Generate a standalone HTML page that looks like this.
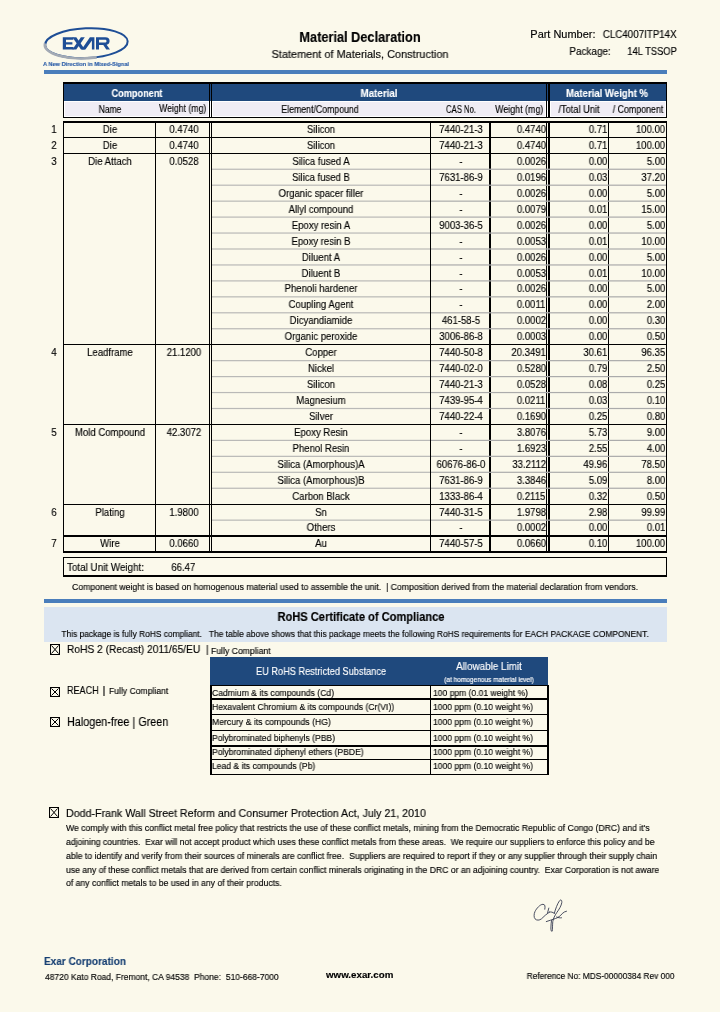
<!DOCTYPE html>
<html><head><meta charset="utf-8"><title>Material Declaration</title>
<style>
html,body{margin:0;padding:0;}
body{width:720px;height:1012px;position:relative;overflow:hidden;background:#FBF9EB;font-family:"Liberation Sans",sans-serif;color:#000;}
.t{position:absolute;white-space:nowrap;line-height:1;will-change:transform;-webkit-text-stroke:0.15px currentColor;}
.r{position:absolute;}
</style></head><body>
<div class="r" style="left:44px;top:70px;width:623px;height:4px;background:#4A7EBB"></div>
<div class="t" id="t0" style="top:29px;font-size:14.5px;line-height:16px;font-weight:bold;left:360.00px;transform:translateX(-50%) scaleX(0.8794557823129251);">Material Declaration</div>
<div class="t" id="t1" style="top:48px;font-size:11px;line-height:12px;left:359.85px;transform:translateX(-50%) scaleX(0.9942566084131027);">Statement of Materials, Construction</div>
<div class="t" id="t2" style="top:28px;font-size:10.5px;line-height:12px;right:124.90px;transform-origin:100% 50%;transform:scaleX(1.0426426426426425);">Part Number:</div>
<div class="t" id="t3" style="top:29px;font-size:10px;line-height:11px;right:43.70px;transform-origin:100% 50%;transform:scaleX(0.97606943583385);">CLC4007ITP14X</div>
<div class="t" id="t4" style="top:45px;font-size:10.5px;line-height:12px;right:109.60px;transform-origin:100% 50%;transform:scaleX(0.9456102783725909);">Package:</div>
<div class="t" id="t5" style="top:46px;font-size:10px;line-height:11px;right:43.70px;transform-origin:100% 50%;transform:scaleX(0.9372781065088758);">14L TSSOP</div>
<div class="r" style="left:63px;top:82px;width:604px;height:2px;background:#000"></div>
<div class="r" style="left:63px;top:84px;width:604px;height:17px;background:#1F497D"></div>
<div class="r" style="left:63px;top:101px;width:604px;height:16px;background:#F0EDF5"></div>
<div class="r" style="left:63px;top:117px;width:604px;height:1px;background:#000"></div>
<div class="r" style="left:64px;top:101px;width:602px;height:1px;background:#FFFFFF"></div>
<div class="r" style="left:64px;top:116px;width:602px;height:1px;background:#FFFFFF"></div>
<div class="r" style="left:64px;top:101px;width:1px;height:16px;background:#FFFFFF"></div>
<div class="r" style="left:208px;top:101px;width:1px;height:16px;background:#FFFFFF"></div>
<div class="r" style="left:210px;top:101px;width:1px;height:16px;background:#FFFFFF"></div>
<div class="r" style="left:212px;top:101px;width:1px;height:16px;background:#FFFFFF"></div>
<div class="r" style="left:545px;top:101px;width:1px;height:16px;background:#FFFFFF"></div>
<div class="r" style="left:547px;top:101px;width:1px;height:16px;background:#FFFFFF"></div>
<div class="r" style="left:550px;top:101px;width:1px;height:16px;background:#FFFFFF"></div>
<div class="r" style="left:665px;top:101px;width:1px;height:16px;background:#FFFFFF"></div>
<div class="r" style="left:63px;top:82px;width:1px;height:36px;background:#000"></div>
<div class="r" style="left:209px;top:82px;width:1px;height:36px;background:#000"></div>
<div class="r" style="left:211px;top:82px;width:1px;height:36px;background:#000"></div>
<div class="r" style="left:546px;top:82px;width:1px;height:36px;background:#000"></div>
<div class="r" style="left:548px;top:82px;width:2px;height:36px;background:#000"></div>
<div class="r" style="left:666px;top:82px;width:1px;height:36px;background:#000"></div>
<div class="t" id="t6" style="top:87px;font-size:10.5px;line-height:12px;font-weight:bold;color:#fff;left:136.90px;transform:translateX(-50%) scaleX(0.872649343691401);">Component</div>
<div class="t" id="t7" style="top:87px;font-size:10.5px;line-height:12px;font-weight:bold;color:#fff;left:379.30px;transform:translateX(-50%) scaleX(0.9297637795275591);">Material</div>
<div class="t" id="t8" style="top:87px;font-size:10.5px;line-height:12px;font-weight:bold;color:#fff;left:607.30px;transform:translateX(-50%) scaleX(0.9134890205646565);">Material Weight %</div>
<div class="t" id="t9" style="top:104px;font-size:10px;line-height:11px;left:109.70px;transform:translateX(-50%) scaleX(0.850585480093677);">Name</div>
<div class="t" id="t10" style="top:103px;font-size:10px;line-height:11px;right:514.20px;transform-origin:100% 50%;transform:scaleX(0.8695451928612551);">Weight (mg)</div>
<div class="t" id="t11" style="top:104px;font-size:10px;line-height:11px;left:320.30px;transform:translateX(-50%) scaleX(0.8745271345235991);">Element/Compound</div>
<div class="t" id="t12" style="top:104px;font-size:10px;line-height:11px;left:460.60px;transform:translateX(-50%) scaleX(0.7736546184738956);">CAS No.</div>
<div class="t" id="t13" style="top:104px;font-size:10px;line-height:11px;right:176.70px;transform-origin:100% 50%;transform:scaleX(0.8861255037420841);">Weight (mg)</div>
<div class="t" id="t14" style="top:104px;font-size:10px;line-height:11px;left:578.60px;transform:translateX(-50%) scaleX(0.9242445537596627);">/Total Unit</div>
<div class="t" id="t15" style="top:104px;font-size:10px;line-height:11px;left:638.00px;transform:translateX(-50%) scaleX(0.8836016371077763);">/ Component</div>
<div class="r" style="left:63px;top:121px;width:1px;height:432px;background:#000"></div>
<div class="r" style="left:155px;top:121px;width:1px;height:432px;background:#000"></div>
<div class="r" style="left:209px;top:121px;width:1px;height:432px;background:#000"></div>
<div class="r" style="left:211px;top:121px;width:1px;height:432px;background:#000"></div>
<div class="r" style="left:430px;top:121px;width:1px;height:432px;background:#000"></div>
<div class="r" style="left:489px;top:121px;width:2px;height:432px;background:#000"></div>
<div class="r" style="left:546px;top:121px;width:1px;height:432px;background:#000"></div>
<div class="r" style="left:548px;top:121px;width:2px;height:432px;background:#000"></div>
<div class="r" style="left:608px;top:121px;width:1px;height:432px;background:#000"></div>
<div class="r" style="left:666px;top:121px;width:1px;height:432px;background:#000"></div>
<div class="r" style="left:63px;top:137px;width:604px;height:1px;background:#000"></div>
<div class="r" style="left:63px;top:153px;width:604px;height:1px;background:#000"></div>
<div class="r" style="left:63px;top:344px;width:604px;height:1px;background:#000"></div>
<div class="r" style="left:63px;top:424px;width:604px;height:1px;background:#000"></div>
<div class="r" style="left:63px;top:504px;width:604px;height:1px;background:#000"></div>
<div class="r" style="left:63px;top:535px;width:604px;height:2px;background:#000"></div>
<div class="r" style="left:63px;top:121px;width:604px;height:2px;background:#000"></div>
<div class="r" style="left:63px;top:551px;width:604px;height:2px;background:#000"></div>
<svg class="r" style="left:0;top:0" width="720" height="1012" viewBox="0 0 720 1012"><rect x="212" y="168.65" width="218" height="1.2" fill="#B9B9B7"/><rect x="431" y="168.65" width="235" height="1.2" fill="#ABABAB"/><rect x="212" y="184.60" width="218" height="1.2" fill="#B9B9B7"/><rect x="431" y="184.60" width="235" height="1.2" fill="#ABABAB"/><rect x="212" y="200.55" width="218" height="1.2" fill="#B9B9B7"/><rect x="431" y="200.55" width="235" height="1.2" fill="#ABABAB"/><rect x="212" y="216.50" width="218" height="1.2" fill="#B9B9B7"/><rect x="431" y="216.50" width="235" height="1.2" fill="#ABABAB"/><rect x="212" y="232.45" width="218" height="1.2" fill="#B9B9B7"/><rect x="431" y="232.45" width="235" height="1.2" fill="#ABABAB"/><rect x="212" y="248.40" width="218" height="1.2" fill="#B9B9B7"/><rect x="431" y="248.40" width="235" height="1.2" fill="#ABABAB"/><rect x="212" y="264.35" width="218" height="1.2" fill="#B9B9B7"/><rect x="431" y="264.35" width="235" height="1.2" fill="#ABABAB"/><rect x="212" y="280.30" width="218" height="1.2" fill="#B9B9B7"/><rect x="431" y="280.30" width="235" height="1.2" fill="#ABABAB"/><rect x="212" y="296.25" width="218" height="1.2" fill="#B9B9B7"/><rect x="431" y="296.25" width="235" height="1.2" fill="#ABABAB"/><rect x="212" y="312.20" width="218" height="1.2" fill="#B9B9B7"/><rect x="431" y="312.20" width="235" height="1.2" fill="#ABABAB"/><rect x="212" y="328.15" width="218" height="1.2" fill="#B9B9B7"/><rect x="431" y="328.15" width="235" height="1.2" fill="#ABABAB"/><rect x="212" y="360.05" width="218" height="1.2" fill="#B9B9B7"/><rect x="431" y="360.05" width="235" height="1.2" fill="#ABABAB"/><rect x="212" y="376.00" width="218" height="1.2" fill="#B9B9B7"/><rect x="431" y="376.00" width="235" height="1.2" fill="#ABABAB"/><rect x="212" y="391.95" width="218" height="1.2" fill="#B9B9B7"/><rect x="431" y="391.95" width="235" height="1.2" fill="#ABABAB"/><rect x="212" y="407.90" width="218" height="1.2" fill="#B9B9B7"/><rect x="431" y="407.90" width="235" height="1.2" fill="#ABABAB"/><rect x="212" y="439.80" width="218" height="1.2" fill="#B9B9B7"/><rect x="431" y="439.80" width="235" height="1.2" fill="#ABABAB"/><rect x="212" y="455.75" width="218" height="1.2" fill="#B9B9B7"/><rect x="431" y="455.75" width="235" height="1.2" fill="#ABABAB"/><rect x="212" y="471.70" width="218" height="1.2" fill="#B9B9B7"/><rect x="431" y="471.70" width="235" height="1.2" fill="#ABABAB"/><rect x="212" y="487.65" width="218" height="1.2" fill="#B9B9B7"/><rect x="431" y="487.65" width="235" height="1.2" fill="#ABABAB"/><rect x="212" y="519.55" width="218" height="1.2" fill="#B9B9B7"/><rect x="431" y="519.55" width="235" height="1.2" fill="#ABABAB"/></svg>
<div class="t" id="t16" style="top:123px;font-size:10.5px;line-height:12px;left:54.00px;transform:translateX(-50%) scaleX(0.91);">1</div>
<div class="t" id="t17" style="top:123px;font-size:10.5px;line-height:12px;left:109.50px;transform:translateX(-50%) scaleX(0.91);">Die</div>
<div class="t" id="t18" style="top:123px;font-size:10.5px;line-height:12px;left:183.50px;transform:translateX(-50%) scaleX(0.91);">0.4740</div>
<div class="t" id="t19" style="top:123px;font-size:10.5px;line-height:12px;left:320.50px;transform:translateX(-50%) scaleX(0.91);">Silicon</div>
<div class="t" id="t20" style="top:123px;font-size:10.5px;line-height:12px;left:460.60px;transform:translateX(-50%) scaleX(0.91);">7440-21-3</div>
<div class="t" id="t21" style="top:123px;font-size:10.5px;line-height:12px;right:174.30px;transform-origin:100% 50%;transform:scaleX(0.91);">0.4740</div>
<div class="t" id="t22" style="top:123px;font-size:10.5px;line-height:12px;right:113.00px;transform-origin:100% 50%;transform:scaleX(0.91);">0.71</div>
<div class="t" id="t23" style="top:123px;font-size:10.5px;line-height:12px;right:54.50px;transform-origin:100% 50%;transform:scaleX(0.91);">100.00</div>
<div class="t" id="t24" style="top:139px;font-size:10.5px;line-height:12px;left:54.00px;transform:translateX(-50%) scaleX(0.91);">2</div>
<div class="t" id="t25" style="top:139px;font-size:10.5px;line-height:12px;left:109.50px;transform:translateX(-50%) scaleX(0.91);">Die</div>
<div class="t" id="t26" style="top:139px;font-size:10.5px;line-height:12px;left:183.50px;transform:translateX(-50%) scaleX(0.91);">0.4740</div>
<div class="t" id="t27" style="top:139px;font-size:10.5px;line-height:12px;left:320.50px;transform:translateX(-50%) scaleX(0.91);">Silicon</div>
<div class="t" id="t28" style="top:139px;font-size:10.5px;line-height:12px;left:460.60px;transform:translateX(-50%) scaleX(0.91);">7440-21-3</div>
<div class="t" id="t29" style="top:139px;font-size:10.5px;line-height:12px;right:174.30px;transform-origin:100% 50%;transform:scaleX(0.91);">0.4740</div>
<div class="t" id="t30" style="top:139px;font-size:10.5px;line-height:12px;right:113.00px;transform-origin:100% 50%;transform:scaleX(0.91);">0.71</div>
<div class="t" id="t31" style="top:139px;font-size:10.5px;line-height:12px;right:54.50px;transform-origin:100% 50%;transform:scaleX(0.91);">100.00</div>
<div class="t" id="t32" style="top:155px;font-size:10.5px;line-height:12px;left:54.00px;transform:translateX(-50%) scaleX(0.91);">3</div>
<div class="t" id="t33" style="top:155px;font-size:10.5px;line-height:12px;left:109.50px;transform:translateX(-50%) scaleX(0.91);">Die Attach</div>
<div class="t" id="t34" style="top:155px;font-size:10.5px;line-height:12px;left:183.50px;transform:translateX(-50%) scaleX(0.91);">0.0528</div>
<div class="t" id="t35" style="top:155px;font-size:10.5px;line-height:12px;left:320.50px;transform:translateX(-50%) scaleX(0.91);">Silica fused A</div>
<div class="t" id="t36" style="top:155px;font-size:10.5px;line-height:12px;left:460.60px;transform:translateX(-50%) scaleX(0.91);">-</div>
<div class="t" id="t37" style="top:155px;font-size:10.5px;line-height:12px;right:174.30px;transform-origin:100% 50%;transform:scaleX(0.91);">0.0026</div>
<div class="t" id="t38" style="top:155px;font-size:10.5px;line-height:12px;right:113.00px;transform-origin:100% 50%;transform:scaleX(0.91);">0.00</div>
<div class="t" id="t39" style="top:155px;font-size:10.5px;line-height:12px;right:54.50px;transform-origin:100% 50%;transform:scaleX(0.91);">5.00</div>
<div class="t" id="t40" style="top:171px;font-size:10.5px;line-height:12px;left:320.50px;transform:translateX(-50%) scaleX(0.91);">Silica fused B</div>
<div class="t" id="t41" style="top:171px;font-size:10.5px;line-height:12px;left:460.60px;transform:translateX(-50%) scaleX(0.91);">7631-86-9</div>
<div class="t" id="t42" style="top:171px;font-size:10.5px;line-height:12px;right:174.30px;transform-origin:100% 50%;transform:scaleX(0.91);">0.0196</div>
<div class="t" id="t43" style="top:171px;font-size:10.5px;line-height:12px;right:113.00px;transform-origin:100% 50%;transform:scaleX(0.91);">0.03</div>
<div class="t" id="t44" style="top:171px;font-size:10.5px;line-height:12px;right:54.50px;transform-origin:100% 50%;transform:scaleX(0.91);">37.20</div>
<div class="t" id="t45" style="top:187px;font-size:10.5px;line-height:12px;left:320.50px;transform:translateX(-50%) scaleX(0.91);">Organic spacer filler</div>
<div class="t" id="t46" style="top:187px;font-size:10.5px;line-height:12px;left:460.60px;transform:translateX(-50%) scaleX(0.91);">-</div>
<div class="t" id="t47" style="top:187px;font-size:10.5px;line-height:12px;right:174.30px;transform-origin:100% 50%;transform:scaleX(0.91);">0.0026</div>
<div class="t" id="t48" style="top:187px;font-size:10.5px;line-height:12px;right:113.00px;transform-origin:100% 50%;transform:scaleX(0.91);">0.00</div>
<div class="t" id="t49" style="top:187px;font-size:10.5px;line-height:12px;right:54.50px;transform-origin:100% 50%;transform:scaleX(0.91);">5.00</div>
<div class="t" id="t50" style="top:203px;font-size:10.5px;line-height:12px;left:320.50px;transform:translateX(-50%) scaleX(0.91);">Allyl compound</div>
<div class="t" id="t51" style="top:203px;font-size:10.5px;line-height:12px;left:460.60px;transform:translateX(-50%) scaleX(0.91);">-</div>
<div class="t" id="t52" style="top:203px;font-size:10.5px;line-height:12px;right:174.30px;transform-origin:100% 50%;transform:scaleX(0.91);">0.0079</div>
<div class="t" id="t53" style="top:203px;font-size:10.5px;line-height:12px;right:113.00px;transform-origin:100% 50%;transform:scaleX(0.91);">0.01</div>
<div class="t" id="t54" style="top:203px;font-size:10.5px;line-height:12px;right:54.50px;transform-origin:100% 50%;transform:scaleX(0.91);">15.00</div>
<div class="t" id="t55" style="top:219px;font-size:10.5px;line-height:12px;left:320.50px;transform:translateX(-50%) scaleX(0.91);">Epoxy resin A</div>
<div class="t" id="t56" style="top:219px;font-size:10.5px;line-height:12px;left:460.60px;transform:translateX(-50%) scaleX(0.91);">9003-36-5</div>
<div class="t" id="t57" style="top:219px;font-size:10.5px;line-height:12px;right:174.30px;transform-origin:100% 50%;transform:scaleX(0.91);">0.0026</div>
<div class="t" id="t58" style="top:219px;font-size:10.5px;line-height:12px;right:113.00px;transform-origin:100% 50%;transform:scaleX(0.91);">0.00</div>
<div class="t" id="t59" style="top:219px;font-size:10.5px;line-height:12px;right:54.50px;transform-origin:100% 50%;transform:scaleX(0.91);">5.00</div>
<div class="t" id="t60" style="top:235px;font-size:10.5px;line-height:12px;left:320.50px;transform:translateX(-50%) scaleX(0.91);">Epoxy resin B</div>
<div class="t" id="t61" style="top:235px;font-size:10.5px;line-height:12px;left:460.60px;transform:translateX(-50%) scaleX(0.91);">-</div>
<div class="t" id="t62" style="top:235px;font-size:10.5px;line-height:12px;right:174.30px;transform-origin:100% 50%;transform:scaleX(0.91);">0.0053</div>
<div class="t" id="t63" style="top:235px;font-size:10.5px;line-height:12px;right:113.00px;transform-origin:100% 50%;transform:scaleX(0.91);">0.01</div>
<div class="t" id="t64" style="top:235px;font-size:10.5px;line-height:12px;right:54.50px;transform-origin:100% 50%;transform:scaleX(0.91);">10.00</div>
<div class="t" id="t65" style="top:251px;font-size:10.5px;line-height:12px;left:320.50px;transform:translateX(-50%) scaleX(0.91);">Diluent A</div>
<div class="t" id="t66" style="top:251px;font-size:10.5px;line-height:12px;left:460.60px;transform:translateX(-50%) scaleX(0.91);">-</div>
<div class="t" id="t67" style="top:251px;font-size:10.5px;line-height:12px;right:174.30px;transform-origin:100% 50%;transform:scaleX(0.91);">0.0026</div>
<div class="t" id="t68" style="top:251px;font-size:10.5px;line-height:12px;right:113.00px;transform-origin:100% 50%;transform:scaleX(0.91);">0.00</div>
<div class="t" id="t69" style="top:251px;font-size:10.5px;line-height:12px;right:54.50px;transform-origin:100% 50%;transform:scaleX(0.91);">5.00</div>
<div class="t" id="t70" style="top:267px;font-size:10.5px;line-height:12px;left:320.50px;transform:translateX(-50%) scaleX(0.91);">Diluent B</div>
<div class="t" id="t71" style="top:267px;font-size:10.5px;line-height:12px;left:460.60px;transform:translateX(-50%) scaleX(0.91);">-</div>
<div class="t" id="t72" style="top:267px;font-size:10.5px;line-height:12px;right:174.30px;transform-origin:100% 50%;transform:scaleX(0.91);">0.0053</div>
<div class="t" id="t73" style="top:267px;font-size:10.5px;line-height:12px;right:113.00px;transform-origin:100% 50%;transform:scaleX(0.91);">0.01</div>
<div class="t" id="t74" style="top:267px;font-size:10.5px;line-height:12px;right:54.50px;transform-origin:100% 50%;transform:scaleX(0.91);">10.00</div>
<div class="t" id="t75" style="top:282px;font-size:10.5px;line-height:12px;left:320.50px;transform:translateX(-50%) scaleX(0.91);">Phenoli hardener</div>
<div class="t" id="t76" style="top:282px;font-size:10.5px;line-height:12px;left:460.60px;transform:translateX(-50%) scaleX(0.91);">-</div>
<div class="t" id="t77" style="top:282px;font-size:10.5px;line-height:12px;right:174.30px;transform-origin:100% 50%;transform:scaleX(0.91);">0.0026</div>
<div class="t" id="t78" style="top:282px;font-size:10.5px;line-height:12px;right:113.00px;transform-origin:100% 50%;transform:scaleX(0.91);">0.00</div>
<div class="t" id="t79" style="top:282px;font-size:10.5px;line-height:12px;right:54.50px;transform-origin:100% 50%;transform:scaleX(0.91);">5.00</div>
<div class="t" id="t80" style="top:298px;font-size:10.5px;line-height:12px;left:320.50px;transform:translateX(-50%) scaleX(0.91);">Coupling Agent</div>
<div class="t" id="t81" style="top:298px;font-size:10.5px;line-height:12px;left:460.60px;transform:translateX(-50%) scaleX(0.91);">-</div>
<div class="t" id="t82" style="top:298px;font-size:10.5px;line-height:12px;right:174.30px;transform-origin:100% 50%;transform:scaleX(0.91);">0.0011</div>
<div class="t" id="t83" style="top:298px;font-size:10.5px;line-height:12px;right:113.00px;transform-origin:100% 50%;transform:scaleX(0.91);">0.00</div>
<div class="t" id="t84" style="top:298px;font-size:10.5px;line-height:12px;right:54.50px;transform-origin:100% 50%;transform:scaleX(0.91);">2.00</div>
<div class="t" id="t85" style="top:314px;font-size:10.5px;line-height:12px;left:320.50px;transform:translateX(-50%) scaleX(0.91);">Dicyandiamide</div>
<div class="t" id="t86" style="top:314px;font-size:10.5px;line-height:12px;left:460.60px;transform:translateX(-50%) scaleX(0.91);">461-58-5</div>
<div class="t" id="t87" style="top:314px;font-size:10.5px;line-height:12px;right:174.30px;transform-origin:100% 50%;transform:scaleX(0.91);">0.0002</div>
<div class="t" id="t88" style="top:314px;font-size:10.5px;line-height:12px;right:113.00px;transform-origin:100% 50%;transform:scaleX(0.91);">0.00</div>
<div class="t" id="t89" style="top:314px;font-size:10.5px;line-height:12px;right:54.50px;transform-origin:100% 50%;transform:scaleX(0.91);">0.30</div>
<div class="t" id="t90" style="top:330px;font-size:10.5px;line-height:12px;left:320.50px;transform:translateX(-50%) scaleX(0.91);">Organic peroxide</div>
<div class="t" id="t91" style="top:330px;font-size:10.5px;line-height:12px;left:460.60px;transform:translateX(-50%) scaleX(0.91);">3006-86-8</div>
<div class="t" id="t92" style="top:330px;font-size:10.5px;line-height:12px;right:174.30px;transform-origin:100% 50%;transform:scaleX(0.91);">0.0003</div>
<div class="t" id="t93" style="top:330px;font-size:10.5px;line-height:12px;right:113.00px;transform-origin:100% 50%;transform:scaleX(0.91);">0.00</div>
<div class="t" id="t94" style="top:330px;font-size:10.5px;line-height:12px;right:54.50px;transform-origin:100% 50%;transform:scaleX(0.91);">0.50</div>
<div class="t" id="t95" style="top:346px;font-size:10.5px;line-height:12px;left:54.00px;transform:translateX(-50%) scaleX(0.91);">4</div>
<div class="t" id="t96" style="top:346px;font-size:10.5px;line-height:12px;left:109.50px;transform:translateX(-50%) scaleX(0.91);">Leadframe</div>
<div class="t" id="t97" style="top:346px;font-size:10.5px;line-height:12px;left:183.50px;transform:translateX(-50%) scaleX(0.91);">21.1200</div>
<div class="t" id="t98" style="top:346px;font-size:10.5px;line-height:12px;left:320.50px;transform:translateX(-50%) scaleX(0.91);">Copper</div>
<div class="t" id="t99" style="top:346px;font-size:10.5px;line-height:12px;left:460.60px;transform:translateX(-50%) scaleX(0.91);">7440-50-8</div>
<div class="t" id="t100" style="top:346px;font-size:10.5px;line-height:12px;right:174.30px;transform-origin:100% 50%;transform:scaleX(0.91);">20.3491</div>
<div class="t" id="t101" style="top:346px;font-size:10.5px;line-height:12px;right:113.00px;transform-origin:100% 50%;transform:scaleX(0.91);">30.61</div>
<div class="t" id="t102" style="top:346px;font-size:10.5px;line-height:12px;right:54.50px;transform-origin:100% 50%;transform:scaleX(0.91);">96.35</div>
<div class="t" id="t103" style="top:362px;font-size:10.5px;line-height:12px;left:320.50px;transform:translateX(-50%) scaleX(0.91);">Nickel</div>
<div class="t" id="t104" style="top:362px;font-size:10.5px;line-height:12px;left:460.60px;transform:translateX(-50%) scaleX(0.91);">7440-02-0</div>
<div class="t" id="t105" style="top:362px;font-size:10.5px;line-height:12px;right:174.30px;transform-origin:100% 50%;transform:scaleX(0.91);">0.5280</div>
<div class="t" id="t106" style="top:362px;font-size:10.5px;line-height:12px;right:113.00px;transform-origin:100% 50%;transform:scaleX(0.91);">0.79</div>
<div class="t" id="t107" style="top:362px;font-size:10.5px;line-height:12px;right:54.50px;transform-origin:100% 50%;transform:scaleX(0.91);">2.50</div>
<div class="t" id="t108" style="top:378px;font-size:10.5px;line-height:12px;left:320.50px;transform:translateX(-50%) scaleX(0.91);">Silicon</div>
<div class="t" id="t109" style="top:378px;font-size:10.5px;line-height:12px;left:460.60px;transform:translateX(-50%) scaleX(0.91);">7440-21-3</div>
<div class="t" id="t110" style="top:378px;font-size:10.5px;line-height:12px;right:174.30px;transform-origin:100% 50%;transform:scaleX(0.91);">0.0528</div>
<div class="t" id="t111" style="top:378px;font-size:10.5px;line-height:12px;right:113.00px;transform-origin:100% 50%;transform:scaleX(0.91);">0.08</div>
<div class="t" id="t112" style="top:378px;font-size:10.5px;line-height:12px;right:54.50px;transform-origin:100% 50%;transform:scaleX(0.91);">0.25</div>
<div class="t" id="t113" style="top:394px;font-size:10.5px;line-height:12px;left:320.50px;transform:translateX(-50%) scaleX(0.91);">Magnesium</div>
<div class="t" id="t114" style="top:394px;font-size:10.5px;line-height:12px;left:460.60px;transform:translateX(-50%) scaleX(0.91);">7439-95-4</div>
<div class="t" id="t115" style="top:394px;font-size:10.5px;line-height:12px;right:174.30px;transform-origin:100% 50%;transform:scaleX(0.91);">0.0211</div>
<div class="t" id="t116" style="top:394px;font-size:10.5px;line-height:12px;right:113.00px;transform-origin:100% 50%;transform:scaleX(0.91);">0.03</div>
<div class="t" id="t117" style="top:394px;font-size:10.5px;line-height:12px;right:54.50px;transform-origin:100% 50%;transform:scaleX(0.91);">0.10</div>
<div class="t" id="t118" style="top:410px;font-size:10.5px;line-height:12px;left:320.50px;transform:translateX(-50%) scaleX(0.91);">Silver</div>
<div class="t" id="t119" style="top:410px;font-size:10.5px;line-height:12px;left:460.60px;transform:translateX(-50%) scaleX(0.91);">7440-22-4</div>
<div class="t" id="t120" style="top:410px;font-size:10.5px;line-height:12px;right:174.30px;transform-origin:100% 50%;transform:scaleX(0.91);">0.1690</div>
<div class="t" id="t121" style="top:410px;font-size:10.5px;line-height:12px;right:113.00px;transform-origin:100% 50%;transform:scaleX(0.91);">0.25</div>
<div class="t" id="t122" style="top:410px;font-size:10.5px;line-height:12px;right:54.50px;transform-origin:100% 50%;transform:scaleX(0.91);">0.80</div>
<div class="t" id="t123" style="top:426px;font-size:10.5px;line-height:12px;left:54.00px;transform:translateX(-50%) scaleX(0.91);">5</div>
<div class="t" id="t124" style="top:426px;font-size:10.5px;line-height:12px;left:109.50px;transform:translateX(-50%) scaleX(0.91);">Mold Compound</div>
<div class="t" id="t125" style="top:426px;font-size:10.5px;line-height:12px;left:183.50px;transform:translateX(-50%) scaleX(0.91);">42.3072</div>
<div class="t" id="t126" style="top:426px;font-size:10.5px;line-height:12px;left:320.50px;transform:translateX(-50%) scaleX(0.91);">Epoxy Resin</div>
<div class="t" id="t127" style="top:426px;font-size:10.5px;line-height:12px;left:460.60px;transform:translateX(-50%) scaleX(0.91);">-</div>
<div class="t" id="t128" style="top:426px;font-size:10.5px;line-height:12px;right:174.30px;transform-origin:100% 50%;transform:scaleX(0.91);">3.8076</div>
<div class="t" id="t129" style="top:426px;font-size:10.5px;line-height:12px;right:113.00px;transform-origin:100% 50%;transform:scaleX(0.91);">5.73</div>
<div class="t" id="t130" style="top:426px;font-size:10.5px;line-height:12px;right:54.50px;transform-origin:100% 50%;transform:scaleX(0.91);">9.00</div>
<div class="t" id="t131" style="top:442px;font-size:10.5px;line-height:12px;left:320.50px;transform:translateX(-50%) scaleX(0.91);">Phenol Resin</div>
<div class="t" id="t132" style="top:442px;font-size:10.5px;line-height:12px;left:460.60px;transform:translateX(-50%) scaleX(0.91);">-</div>
<div class="t" id="t133" style="top:442px;font-size:10.5px;line-height:12px;right:174.30px;transform-origin:100% 50%;transform:scaleX(0.91);">1.6923</div>
<div class="t" id="t134" style="top:442px;font-size:10.5px;line-height:12px;right:113.00px;transform-origin:100% 50%;transform:scaleX(0.91);">2.55</div>
<div class="t" id="t135" style="top:442px;font-size:10.5px;line-height:12px;right:54.50px;transform-origin:100% 50%;transform:scaleX(0.91);">4.00</div>
<div class="t" id="t136" style="top:458px;font-size:10.5px;line-height:12px;left:320.50px;transform:translateX(-50%) scaleX(0.91);">Silica (Amorphous)A</div>
<div class="t" id="t137" style="top:458px;font-size:10.5px;line-height:12px;left:460.60px;transform:translateX(-50%) scaleX(0.91);">60676-86-0</div>
<div class="t" id="t138" style="top:458px;font-size:10.5px;line-height:12px;right:174.30px;transform-origin:100% 50%;transform:scaleX(0.91);">33.2112</div>
<div class="t" id="t139" style="top:458px;font-size:10.5px;line-height:12px;right:113.00px;transform-origin:100% 50%;transform:scaleX(0.91);">49.96</div>
<div class="t" id="t140" style="top:458px;font-size:10.5px;line-height:12px;right:54.50px;transform-origin:100% 50%;transform:scaleX(0.91);">78.50</div>
<div class="t" id="t141" style="top:474px;font-size:10.5px;line-height:12px;left:320.50px;transform:translateX(-50%) scaleX(0.91);">Silica (Amorphous)B</div>
<div class="t" id="t142" style="top:474px;font-size:10.5px;line-height:12px;left:460.60px;transform:translateX(-50%) scaleX(0.91);">7631-86-9</div>
<div class="t" id="t143" style="top:474px;font-size:10.5px;line-height:12px;right:174.30px;transform-origin:100% 50%;transform:scaleX(0.91);">3.3846</div>
<div class="t" id="t144" style="top:474px;font-size:10.5px;line-height:12px;right:113.00px;transform-origin:100% 50%;transform:scaleX(0.91);">5.09</div>
<div class="t" id="t145" style="top:474px;font-size:10.5px;line-height:12px;right:54.50px;transform-origin:100% 50%;transform:scaleX(0.91);">8.00</div>
<div class="t" id="t146" style="top:490px;font-size:10.5px;line-height:12px;left:320.50px;transform:translateX(-50%) scaleX(0.91);">Carbon Black</div>
<div class="t" id="t147" style="top:490px;font-size:10.5px;line-height:12px;left:460.60px;transform:translateX(-50%) scaleX(0.91);">1333-86-4</div>
<div class="t" id="t148" style="top:490px;font-size:10.5px;line-height:12px;right:174.30px;transform-origin:100% 50%;transform:scaleX(0.91);">0.2115</div>
<div class="t" id="t149" style="top:490px;font-size:10.5px;line-height:12px;right:113.00px;transform-origin:100% 50%;transform:scaleX(0.91);">0.32</div>
<div class="t" id="t150" style="top:490px;font-size:10.5px;line-height:12px;right:54.50px;transform-origin:100% 50%;transform:scaleX(0.91);">0.50</div>
<div class="t" id="t151" style="top:506px;font-size:10.5px;line-height:12px;left:54.00px;transform:translateX(-50%) scaleX(0.91);">6</div>
<div class="t" id="t152" style="top:506px;font-size:10.5px;line-height:12px;left:109.50px;transform:translateX(-50%) scaleX(0.91);">Plating</div>
<div class="t" id="t153" style="top:506px;font-size:10.5px;line-height:12px;left:183.50px;transform:translateX(-50%) scaleX(0.91);">1.9800</div>
<div class="t" id="t154" style="top:506px;font-size:10.5px;line-height:12px;left:320.50px;transform:translateX(-50%) scaleX(0.91);">Sn</div>
<div class="t" id="t155" style="top:506px;font-size:10.5px;line-height:12px;left:460.60px;transform:translateX(-50%) scaleX(0.91);">7440-31-5</div>
<div class="t" id="t156" style="top:506px;font-size:10.5px;line-height:12px;right:174.30px;transform-origin:100% 50%;transform:scaleX(0.91);">1.9798</div>
<div class="t" id="t157" style="top:506px;font-size:10.5px;line-height:12px;right:113.00px;transform-origin:100% 50%;transform:scaleX(0.91);">2.98</div>
<div class="t" id="t158" style="top:506px;font-size:10.5px;line-height:12px;right:54.50px;transform-origin:100% 50%;transform:scaleX(0.91);">99.99</div>
<div class="t" id="t159" style="top:521px;font-size:10.5px;line-height:12px;left:320.50px;transform:translateX(-50%) scaleX(0.91);">Others</div>
<div class="t" id="t160" style="top:521px;font-size:10.5px;line-height:12px;left:460.60px;transform:translateX(-50%) scaleX(0.91);">-</div>
<div class="t" id="t161" style="top:521px;font-size:10.5px;line-height:12px;right:174.30px;transform-origin:100% 50%;transform:scaleX(0.91);">0.0002</div>
<div class="t" id="t162" style="top:521px;font-size:10.5px;line-height:12px;right:113.00px;transform-origin:100% 50%;transform:scaleX(0.91);">0.00</div>
<div class="t" id="t163" style="top:521px;font-size:10.5px;line-height:12px;right:54.50px;transform-origin:100% 50%;transform:scaleX(0.91);">0.01</div>
<div class="t" id="t164" style="top:537px;font-size:10.5px;line-height:12px;left:54.00px;transform:translateX(-50%) scaleX(0.91);">7</div>
<div class="t" id="t165" style="top:537px;font-size:10.5px;line-height:12px;left:109.50px;transform:translateX(-50%) scaleX(0.91);">Wire</div>
<div class="t" id="t166" style="top:537px;font-size:10.5px;line-height:12px;left:183.50px;transform:translateX(-50%) scaleX(0.91);">0.0660</div>
<div class="t" id="t167" style="top:537px;font-size:10.5px;line-height:12px;left:320.50px;transform:translateX(-50%) scaleX(0.91);">Au</div>
<div class="t" id="t168" style="top:537px;font-size:10.5px;line-height:12px;left:460.60px;transform:translateX(-50%) scaleX(0.91);">7440-57-5</div>
<div class="t" id="t169" style="top:537px;font-size:10.5px;line-height:12px;right:174.30px;transform-origin:100% 50%;transform:scaleX(0.91);">0.0660</div>
<div class="t" id="t170" style="top:537px;font-size:10.5px;line-height:12px;right:113.00px;transform-origin:100% 50%;transform:scaleX(0.91);">0.10</div>
<div class="t" id="t171" style="top:537px;font-size:10.5px;line-height:12px;right:54.50px;transform-origin:100% 50%;transform:scaleX(0.91);">100.00</div>
<div class="r" style="left:63px;top:557px;width:604px;height:1px;background:#000"></div>
<div class="r" style="left:63px;top:575px;width:604px;height:2px;background:#000"></div>
<div class="r" style="left:63px;top:557px;width:1px;height:20px;background:#000"></div>
<div class="r" style="left:666px;top:557px;width:1px;height:20px;background:#000"></div>
<div class="t" id="t172" style="top:561px;font-size:10.5px;line-height:12px;left:66.80px;transform-origin:0 50%;transform:scaleX(0.9379520365435858);">Total Unit Weight:</div>
<div class="t" id="t173" style="top:561px;font-size:10.5px;line-height:12px;right:524.90px;transform-origin:100% 50%;transform:scaleX(0.9093935790725328);">66.47</div>
<div class="t" id="t174" style="top:582px;font-size:9px;line-height:10px;left:355.30px;transform:translateX(-50%) scaleX(0.9656128378738604);">Component weight is based on homogenous material used to assemble the unit.&nbsp; | Composition derived from the material declaration from vendors.</div>
<div class="r" style="left:44px;top:599px;width:623px;height:4px;background:#4A7EBB"></div>
<div class="r" style="left:44px;top:607px;width:623px;height:35px;background:#DBE5F1"></div>
<div class="t" id="t175" style="top:610px;font-size:12.2px;line-height:14px;font-weight:bold;left:360.50px;transform:translateX(-50%) scaleX(0.909381917248425);">RoHS Certificate of Compliance</div>
<div class="t" id="t176" style="top:629px;font-size:9px;line-height:10px;left:355.00px;transform:translateX(-50%) scaleX(0.9306785537394751);">This package is fully RoHS compliant.&nbsp;&nbsp; The table above shows that this package meets the following RoHS requirements for EACH PACKAGE COMPONENT.</div>
<svg class="r" style="left:50px;top:644px" width="10" height="11" viewBox="0 0 10 11"><rect x="0.5" y="0.5" width="9" height="10" fill="none" stroke="#000" stroke-width="1"/><path d="M1.5 1.5 L8.5 9.5 M8.5 1.5 L1.5 9.5" stroke="#000" stroke-width="1"/></svg>
<div class="t" id="t177" style="top:643px;font-size:11.5px;line-height:12px;left:66.70px;transform-origin:0 50%;transform:scaleX(0.8884705882352941);">RoHS 2 (Recast) 2011/65/EU&nbsp; |</div>
<div class="t" id="t178" style="top:646px;font-size:9.3px;line-height:10px;left:211.00px;transform-origin:0 50%;transform:scaleX(0.9301146061936113);">Fully Compliant</div>
<svg class="r" style="left:50px;top:687px" width="10" height="10" viewBox="0 0 10 10"><rect x="0.5" y="0.5" width="9" height="9" fill="none" stroke="#000" stroke-width="1"/><path d="M1.5 1.5 L8.5 8.5 M8.5 1.5 L1.5 8.5" stroke="#000" stroke-width="1"/></svg>
<div class="t" id="t179" style="top:684px;font-size:11.5px;line-height:12px;left:66.70px;transform-origin:0 50%;transform:scaleX(0.7847885137757082);">REACH</div>
<div class="t" id="t180" style="top:684px;font-size:11.5px;line-height:12px;left:104.20px;transform:translateX(-50%) scaleX(1.0);">|</div>
<div class="t" id="t181" style="top:685px;font-size:9.5px;line-height:11px;left:109.00px;transform-origin:0 50%;transform:scaleX(0.9057756563245825);">Fully Compliant</div>
<svg class="r" style="left:50px;top:717px" width="10" height="10" viewBox="0 0 10 10"><rect x="0.5" y="0.5" width="9" height="9" fill="none" stroke="#000" stroke-width="1"/><path d="M1.5 1.5 L8.5 8.5 M8.5 1.5 L1.5 8.5" stroke="#000" stroke-width="1"/></svg>
<div class="t" id="t182" style="top:715px;font-size:12.5px;line-height:14px;left:66.70px;transform-origin:0 50%;transform:scaleX(0.8643114251433142);">Halogen-free | Green</div>
<div class="r" style="left:210px;top:657px;width:338px;height:28px;background:#1F497D"></div>
<div class="t" id="t183" style="top:665px;font-size:11px;line-height:12px;color:#fff;left:320.80px;transform:translateX(-50%) scaleX(0.8371063487272361);">EU RoHS Restricted Substance</div>
<div class="t" id="t184" style="top:660px;font-size:10.5px;line-height:12px;color:#fff;left:488.90px;transform:translateX(-50%) scaleX(0.9395805443998214);">Allowable Limit</div>
<div class="t" id="t185" style="top:676px;font-size:7px;line-height:7px;color:#fff;left:488.90px;transform:translateX(-50%) scaleX(0.9312306941960656);">(at homogenous material level)</div>
<div class="r" style="left:210px;top:685px;width:338px;height:1px;background:#000"></div>
<div class="r" style="left:210px;top:698px;width:338px;height:2px;background:#000"></div>
<div class="r" style="left:210px;top:714px;width:338px;height:1px;background:#000"></div>
<div class="r" style="left:210px;top:730px;width:338px;height:1px;background:#000"></div>
<div class="r" style="left:210px;top:745px;width:338px;height:2px;background:#000"></div>
<div class="r" style="left:210px;top:759px;width:338px;height:1px;background:#000"></div>
<div class="r" style="left:210px;top:774px;width:338px;height:1px;background:#000"></div>
<div class="r" style="left:210px;top:685px;width:2px;height:90px;background:#000"></div>
<div class="r" style="left:430px;top:685px;width:1px;height:90px;background:#000"></div>
<div class="r" style="left:547px;top:685px;width:2px;height:90px;background:#000"></div>
<div class="t" id="t186" style="top:688px;font-size:9.2px;line-height:10px;left:212.30px;transform-origin:0 50%;transform:scaleX(0.936997479899196);">Cadmium &amp; its compounds (Cd)</div>
<div class="t" id="t187" style="top:688px;font-size:9.2px;line-height:10px;left:432.60px;transform-origin:0 50%;transform:scaleX(0.9300902554688695);">100 ppm (0.01 weight %)</div>
<div class="t" id="t188" style="top:702px;font-size:9.2px;line-height:10px;left:212.30px;transform-origin:0 50%;transform:scaleX(0.9360963855421687);">Hexavalent Chromium &amp; its compounds (Cr(VI))</div>
<div class="t" id="t189" style="top:702px;font-size:9.2px;line-height:10px;left:432.60px;transform-origin:0 50%;transform:scaleX(0.9314685314685314);">1000 ppm (0.10 weight %)</div>
<div class="t" id="t190" style="top:717px;font-size:9.2px;line-height:10px;left:212.30px;transform-origin:0 50%;transform:scaleX(0.942039400322141);">Mercury &amp; its compounds (HG)</div>
<div class="t" id="t191" style="top:717px;font-size:9.2px;line-height:10px;left:432.60px;transform-origin:0 50%;transform:scaleX(0.9314685314685314);">1000 ppm (0.10 weight %)</div>
<div class="t" id="t192" style="top:733px;font-size:9.2px;line-height:10px;left:212.30px;transform-origin:0 50%;transform:scaleX(0.9299468399291199);">Polybrominated biphenyls (PBB)</div>
<div class="t" id="t193" style="top:733px;font-size:9.2px;line-height:10px;left:432.60px;transform-origin:0 50%;transform:scaleX(0.9314685314685314);">1000 ppm (0.10 weight %)</div>
<div class="t" id="t194" style="top:747px;font-size:9.2px;line-height:10px;left:212.30px;transform-origin:0 50%;transform:scaleX(0.9340773523186453);">Polybrominated diphenyl ethers (PBDE)</div>
<div class="t" id="t195" style="top:747px;font-size:9.2px;line-height:10px;left:432.60px;transform-origin:0 50%;transform:scaleX(0.9314685314685314);">1000 ppm (0.10 weight %)</div>
<div class="t" id="t196" style="top:761px;font-size:9.2px;line-height:10px;left:212.30px;transform-origin:0 50%;transform:scaleX(0.9311715776117298);">Lead &amp; its compounds (Pb)</div>
<div class="t" id="t197" style="top:761px;font-size:9.2px;line-height:10px;left:432.60px;transform-origin:0 50%;transform:scaleX(0.9314685314685314);">1000 ppm (0.10 weight %)</div>
<svg class="r" style="left:49px;top:807px" width="10" height="11" viewBox="0 0 10 11"><rect x="0.5" y="0.5" width="9" height="10" fill="none" stroke="#000" stroke-width="1"/><path d="M1.5 1.5 L8.5 9.5 M8.5 1.5 L1.5 9.5" stroke="#000" stroke-width="1"/></svg>
<div class="t" id="t198" style="top:807px;font-size:11px;line-height:12px;left:66.20px;transform-origin:0 50%;transform:scaleX(0.9692236482221755);">Dodd-Frank Wall Street Reform and Consumer Protection Act, July 21, 2010</div>
<div class="t" id="t199" style="top:823px;font-size:9px;line-height:10px;left:65.90px;transform-origin:0 50%;transform:scaleX(0.9635242836140415);">We comply with this conflict metal free policy that restricts the use of these conflict metals, mining from the Democratic Republic of Congo (DRC) and it&#39;s</div>
<div class="t" id="t200" style="top:837px;font-size:9px;line-height:10px;left:65.90px;transform-origin:0 50%;transform:scaleX(0.9588430004583186);">adjoining countries.&nbsp; Exar will not accept product which uses these conflict metals from these areas.&nbsp; We require our suppliers to enforce this policy and be</div>
<div class="t" id="t201" style="top:851px;font-size:9px;line-height:10px;left:65.90px;transform-origin:0 50%;transform:scaleX(0.96868407578085);">able to identify and verify from their sources of minerals are conflict free.&nbsp; Suppliers are required to report if they or any supplier through their supply chain</div>
<div class="t" id="t202" style="top:865px;font-size:9px;line-height:10px;left:65.90px;transform-origin:0 50%;transform:scaleX(0.96026714563991);">use any of these conflict metals that are derived from certain conflict minerals originating in the DRC or an adjoining country.&nbsp; Exar Corporation is not aware</div>
<div class="t" id="t203" style="top:878px;font-size:9px;line-height:10px;left:65.90px;transform-origin:0 50%;transform:scaleX(0.9611574846967167);">of any conflict metals to be used in any of their products.</div>
<svg class="r" style="left:0;top:0" width="720" height="1012" viewBox="0 0 720 1012"><path d="M544.8 909.2 C545.2 906.5 545.3 904.5 543 904.3 C540 904.3 536.5 908.5 535 911.5 C533.8 914 533.8 917.5 535 918.8 C536.5 920.6 539.5 920.5 541.5 918.8 C544 916.5 546.5 913.8 549.4 912.1 M548.8 908.1 L547.6 912.7 M549.4 912.1 C551 911.6 552.8 912.2 554.3 913.3 M554.3 913.3 C555.5 909 557.5 903.5 559.5 900.8 C560.8 899.2 562 900 561.8 902.5 C561.5 905.5 559 909.5 556.7 912.7 C554.8 915.5 553.3 918.5 552.8 921.5 C552.4 925 552.6 929 552.2 931.2 C551.4 932 550.8 930 550.9 928 C551 925 551.2 922.5 551.5 920.5 M546.3 921.6 C549 920.8 552 919.6 555.5 918.5 C558 917.6 560.5 916 562.2 913.6 C563.5 912.3 565 911.5 566.5 911.2 M556.7 917 C558.5 917.8 560 918 561.5 917.8" fill="none" stroke="#2b3048" stroke-width="0.85" stroke-linecap="round"/></svg>
<div class="t" id="t204" style="top:955px;font-size:11px;line-height:12px;font-weight:bold;color:#163F72;left:43.90px;transform-origin:0 50%;transform:scaleX(0.9114241001564944);">Exar Corporation</div>
<div class="t" id="t205" style="top:972px;font-size:9px;line-height:10px;left:44.90px;transform-origin:0 50%;transform:scaleX(0.9431238960383548);">48720 Kato Road, Fremont, CA 94538&nbsp; Phone:&nbsp; 510-668-7000</div>
<div class="t" id="t206" style="top:969px;font-size:9.5px;line-height:11px;font-weight:bold;left:325.80px;transform-origin:0 50%;transform:scaleX(1.025035697287006);">www.exar.com</div>
<div class="t" id="t207" style="top:971px;font-size:9px;line-height:10px;right:45.60px;transform-origin:100% 50%;transform:scaleX(0.926728020364206);">Reference No: MDS-00000384 Rev 000</div>
<svg class="r" style="left:0;top:0" width="720" height="1012" viewBox="0 0 720 1012"><g transform="rotate(-2.6 86.4 43.2)"><ellipse cx="86.4" cy="43.2" rx="41.3" ry="14.9" fill="none" stroke="#1E4E96" stroke-width="2"/><path d="M45.1 41.4 A41.3 14.9 0 0 0 96 57.8" fill="none" stroke="#A3AAB4" stroke-width="2.6"/></g><g fill="#1E4E96"><path d="M62.8 37.3 H73.4 V39.8 H66 V42.2 H72.4 V44.6 H66 V47 H73.6 V49.5 H62.8 Z"/><path d="M72.4 37.3 H76.3 L84.9 49.5 H81 Z"/><path d="M80.9 37.3 H84.8 L76.3 49.5 H72.4 Z"/><path d="M81.6 49.5 H85.4 L91.9 40.4 V49.5 H94.4 V37.3 H89.9 Z"/><path fill-rule="evenodd" d="M96 37.3 H105.3 C108.4 37.3 109.6 39 109.6 41 C109.6 43 108.6 44.3 106.6 44.8 L110 49.5 H106.3 L103.3 45.1 H99 V49.5 H96 Z M99 39.8 H104.6 C106 39.8 106.5 40.3 106.5 41.2 C106.5 42.1 106 42.6 104.6 42.6 H99 Z"/></g></svg>
<div class="t" id="t208" style="top:60px;font-size:6.2px;line-height:7px;font-weight:bold;color:#2a5ca8;left:86.00px;transform:translateX(-50%) scaleX(0.9117111147921153);">A New Direction in Mixed-Signal</div>
</body></html>
